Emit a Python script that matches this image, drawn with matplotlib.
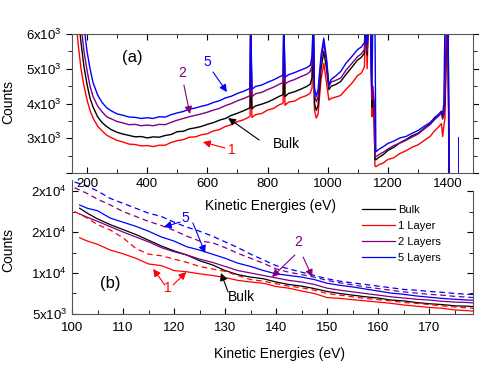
import matplotlib
matplotlib.use("Agg")
import matplotlib.pyplot as plt
from matplotlib.ticker import MultipleLocator, FixedLocator, FixedFormatter

plt.rcParams["font.family"] = ["Liberation Sans", "DejaVu Sans"]
plt.rcParams["mathtext.default"] = "regular"

# ---- panel (a): survey spectra ----
e_top = [150, 160, 170, 180, 190, 200, 210, 220,
         235, 250, 265, 280,
         300, 320, 340, 360, 380, 400, 420, 440, 460, 480, 500,
         520, 540, 560, 580, 600, 620, 640, 660, 680, 700, 720,
         738, 742, 744, 748,
         760, 780, 800, 820, 840,
         848, 852, 854, 858,
         870, 890, 910, 930,
         942, 948, 952, 956, 962, 968, 978, 987, 996, 1004,
         1012, 1025, 1043, 1060, 1080, 1099, 1112, 1122,
         1127, 1131, 1136, 1142, 1147, 1150, 1154, 1157, 1160,
         1170, 1185, 1200, 1220, 1240, 1260, 1280, 1300, 1320, 1340, 1355, 1370,
         1378, 1382, 1386, 1390, 1396, 1400, 1404]

red_top = [8000, 6700, 5750, 5000, 4500, 4100, 3800, 3580,
           3350, 3210, 3090, 3020,
           2940, 2890, 2830, 2820, 2780, 2790, 2760, 2800, 2800, 2880, 2930,
           2960, 3030, 3040, 3100, 3130, 3210, 3250, 3340, 3390, 3480, 3530,
           3610, 3640, 6500, 3600,
           3680, 3710, 3810, 3860, 3970,
           3990, 4020, 6500, 3950,
           4040, 4070, 4170, 4230,
           4300, 4450, 6500, 3800, 3580, 3700, 4700, 5150, 4600, 4100,
           4150, 4180, 4230, 4400, 4580, 4800, 4880, 5050,
           6500, 5000, 6500, 6500, 3620, 4000, 3700, 2200, 2180,
           2240, 2290, 2390, 2440, 2560, 2640, 2740, 2810, 2930, 3050, 3210, 3340,
           3420, 3050, 3350, 3600, 6500, 5000, 1500]

black_top = [9000, 7800, 6600, 5750, 5050, 4550, 4150, 3900,
             3620, 3450, 3340, 3250,
             3170, 3120, 3080, 3040, 3050, 3010, 3040, 3030, 3080, 3110, 3190,
             3200, 3270, 3300, 3340, 3400, 3450, 3520, 3570, 3660, 3720, 3790,
             3860, 3880, 6500, 3850,
             3930, 3980, 4040, 4120, 4210,
             4240, 4260, 6500, 4200,
             4290, 4340, 4410, 4490,
             4560, 4750, 6500, 4000, 3800, 3950, 5000, 5500, 5000, 4400,
             4500, 4540, 4630, 4830, 5040, 5250, 5330, 5450,
             6500, 5400, 6500, 6500, 3900, 4300, 3950, 2400, 2380,
             2450, 2530, 2650, 2740, 2870, 2960, 3070, 3140, 3280, 3410, 3590, 3690,
             3760, 3600, 3700, 4000, 6500, 6500, 1500]

purple_top = [9600, 8400, 7200, 6250, 5500, 4950, 4500, 4200,
              3930, 3760, 3620, 3560,
              3480, 3440, 3390, 3400, 3360, 3380, 3360, 3400, 3390, 3460, 3520,
              3570, 3620, 3660, 3700, 3750, 3810, 3860, 3940, 4000, 4080, 4140,
              4210, 4230, 6500, 4200,
              4280, 4320, 4400, 4470, 4560,
              4590, 4620, 6500, 4560,
              4630, 4690, 4770, 4840,
              4920, 5100, 6500, 4250, 4050, 4200, 5250, 5740, 5200, 4500,
              4620, 4660, 4730, 4950, 5150, 5350, 5430, 5550,
              6500, 5500, 6500, 6500, 4100, 4500, 4100, 2480, 2470,
              2530, 2600, 2690, 2790, 2860, 2940, 3030, 3120, 3260, 3390, 3530, 3650,
              3720, 3550, 3650, 4200, 6500, 6500, 1500]

blue_top = [10500, 9200, 8000, 7000, 6200, 5500, 5000, 4600,
            4250, 4030, 3880, 3790,
            3700, 3660, 3610, 3600, 3570, 3590, 3570, 3620, 3610, 3680, 3730,
            3770, 3840, 3870, 3920, 3960, 4030, 4080, 4160, 4210, 4290, 4350,
            4420, 4440, 6500, 4410,
            4490, 4530, 4610, 4680, 4770,
            4800, 4830, 6500, 4760,
            4830, 4890, 4960, 5030,
            5100, 5350, 6500, 4450, 4200, 4400, 5400, 5880, 5300, 4530,
            4700, 4780, 4920, 5150, 5350, 5550, 5630, 5750,
            6500, 5700, 6500, 6500, 4400, 6500, 6500, 6500, 2610,
            2680, 2760, 2850, 2920, 3010, 3050, 3140, 3220, 3340, 3450, 3580, 3700,
            3780, 3700, 4000, 6500, 6500, 6500, 1500]

# stray blue line near 1434 eV
blue_stray_x = [1434, 1434]
blue_stray_y = [3050, 1500]

# ---- panel (b): low energy region ----
e_solid = [101.5, 103, 105, 107.5, 110, 112.5, 115, 117.5, 120, 122.5, 125, 127.5,
           130, 132.5, 135, 137.5, 140, 142.5, 145, 147.5, 150, 152.5, 155, 157.5,
           160, 162.5, 165, 167.5, 170, 172.5, 175, 177.5, 180]
e_dash = [100.5] + e_solid[1:]

bulk = [17900, 17300, 16600, 15900, 15300, 14700, 14000, 13300, 12700, 12200, 11500, 11000,
        10300, 9800, 9500, 9300, 8900, 8600, 8400, 8100, 7750, 7500, 7300, 7100,
        6950, 6700, 6600, 6400, 6250, 6150, 6000, 5950, 5850]
layer1 = [14300, 13900, 13500, 12800, 12350, 11800, 11100, 10900, 10300, 10150, 9900, 9700,
          9450, 9100, 8900, 8750, 8350, 8150, 7800, 7500, 7000, 6900, 6750, 6600,
          6450, 6300, 6100, 5950, 5800, 5700, 5500, 5400, 5300]
layer2 = [17200, 16800, 16300, 15650, 15000, 14400, 13800, 13100, 12600, 12200, 11700, 11300,
          10800, 10300, 10000, 9700, 9400, 9100, 8900, 8600, 8150, 7900, 7700, 7500,
          7300, 7100, 6950, 6800, 6700, 6550, 6450, 6400, 6300]
layer5 = [18300, 17900, 17600, 16700, 16200, 15700, 15100, 14400, 13900, 13200, 12800, 12300,
          11800, 11200, 10800, 10300, 9900, 9700, 9500, 9200, 8750, 8500, 8300, 8050,
          7800, 7550, 7400, 7200, 7050, 6900, 6800, 6700, 6650]
layer1_d = [17500, 16700, 15900, 15240, 14300, 13000, 12300, 12100, 11700, 11300, 10800, 10500,
            10200, 9700, 9200, 9000, 8700, 8400, 8200, 7900, 7500, 7300, 7100, 6900,
            6750, 6600, 6400, 6300, 6150, 6000, 5850, 5750, 5650]
layer2_d = [20400, 19700, 19000, 18300, 17500, 16900, 16300, 15800, 15200, 14500, 13900, 13700,
            13100, 12400, 11800, 11200, 10500, 10100, 9800, 9500, 9100, 8800, 8550, 8300,
            8100, 7900, 7700, 7550, 7400, 7300, 7150, 7050, 6950]
layer5_d = [21100, 20600, 20000, 19100, 18500, 17900, 17300, 16900, 16200, 15600, 15100, 14500,
            13800, 13100, 12300, 11600, 10900, 10500, 10100, 9700, 9300, 9000, 8800, 8600,
            8400, 8200, 8000, 7900, 7750, 7650, 7500, 7400, 7350]

labels = ["Bulk", "1 Layer", "2 Layers", "5 Layers"]
top_yticks = [2000, 3000, 4000, 5000, 6000]
top_ylabels = ["", "$3x10^3$", "$4x10^3$", "$5x10^3$", "$6x10^3$"]
bot_yticks = [5000, 10000, 15000, 20000]
bot_ylabels = ["$5x10^3$", "$1x10^4$", "$2x10^4$", "$2x10^4$"]

RED, BLACK, PURPLE, BLUE = "#ff0000", "#000000", "#800080", "#0000ff"
DASH = (0, (4.5, 3))

fig = plt.figure(figsize=(4.79, 3.83), dpi=100)
ax2 = fig.add_axes([0.1503, 0.1802, 0.8372, 0.3499])
ax1 = fig.add_axes([0.1503, 0.5483, 0.8372, 0.3629])
ax2.set_facecolor("none")
ax1.set_facecolor("none")

# panel (a)
for y, c in [(red_top, RED), (black_top, BLACK), (purple_top, PURPLE), (blue_top, BLUE)]:
    ax1.plot(e_top, y, color=c, lw=1.0)
ax1.plot(blue_stray_x, blue_stray_y, color=BLUE, lw=0.7)
ax1.set_xlim(150, 1483)
ax1.set_ylim(2000, 6000)
ax1.xaxis.set_major_locator(MultipleLocator(200))
ax1.xaxis.set_minor_locator(MultipleLocator(100))
ax1.yaxis.set_major_locator(FixedLocator(top_yticks))
ax1.yaxis.set_major_formatter(FixedFormatter(top_ylabels))
ax1.yaxis.set_minor_locator(MultipleLocator(500))
ax1.tick_params(which="both", direction="in", top=True, right=True, labelsize=9.5)
ax1.tick_params(axis="y", which="both", left=True, direction="out")
ax1.tick_params(which="major", length=4)
ax1.tick_params(which="minor", length=3)
ax1.set_xlabel("Kinetic Energies (eV)", fontsize=10)
ax1.xaxis.set_label_coords(0.494, -0.19)
ax1.set_ylabel("Counts", fontsize=10)
ax1.yaxis.set_label_coords(-0.142, 0.51)
for s in ax1.spines.values():
    s.set_color("#555555")

ax1.text(349, 5338, "(a)", fontsize=12, ha="center", va="center")
ax1.text(599, 5194, "5", color=BLUE, fontsize=10, ha="center", va="center")
ax1.text(516, 4878, "2", color=PURPLE, fontsize=10, ha="center", va="center")
ax1.text(818, 2835, "Bulk", fontsize=10, ha="left", va="center")
ax1.text(682, 2662, "1", color=RED, fontsize=10, ha="center", va="center")
arrows_a = [((619, 4906), (665, 4330), BLUE),
            ((522, 4532), (542, 3700), PURPLE),
            ((772, 2950), (669, 3583), BLACK),
            ((659, 2719), (585, 2892), RED)]
for tail, tip, c in arrows_a:
    ax1.annotate("", xy=tip, xytext=tail,
                 arrowprops=dict(arrowstyle="-|>", color=c, lw=0.8,
                                 mutation_scale=11, shrinkA=0, shrinkB=0))

# panel (b)
h1, = ax2.plot(e_solid, bulk, color=BLACK, lw=0.9)
h2, = ax2.plot(e_solid, layer1, color=RED, lw=0.9)
h3, = ax2.plot(e_solid, layer2, color=PURPLE, lw=0.9)
h4, = ax2.plot(e_solid, layer5, color=BLUE, lw=0.9)
ax2.plot(e_dash, layer1_d, color=RED, lw=0.9, ls=DASH)
ax2.plot(e_dash, layer2_d, color=PURPLE, lw=0.9, ls=DASH)
ax2.plot(e_dash, layer5_d, color=BLUE, lw=0.9, ls=DASH)
ax2.set_xlim(100, 178.6)
ax2.set_ylim(5000, 21350)
ax2.xaxis.set_major_locator(MultipleLocator(10))
ax2.xaxis.set_minor_locator(MultipleLocator(5))
ax2.yaxis.set_major_locator(FixedLocator(bot_yticks))
ax2.yaxis.set_major_formatter(FixedFormatter(bot_ylabels))
ax2.yaxis.set_minor_locator(MultipleLocator(2500))
ax2.tick_params(which="both", direction="in", right=True, labelsize=9.5)
ax2.tick_params(axis="x", which="major", pad=5.5)
ax2.tick_params(which="major", length=4)
ax2.tick_params(which="minor", length=3)
ax2.spines["top"].set_visible(False)
ax2.spines["right"].set_bounds(5000, 20000)
for s in ax2.spines.values():
    s.set_color("#555555")
ax2.set_xlabel("Kinetic Energies (eV)", fontsize=10)
ax2.xaxis.set_label_coords(0.518, -0.246)
ax2.set_ylabel("Counts", fontsize=10)
ax2.yaxis.set_label_coords(-0.142, 0.478)

ax2.legend([h1, h2, h3, h4], labels, loc="upper left", frameon=False, fontsize=8,
           bbox_to_anchor=(0.756, 0.466), bbox_transform=fig.transFigure,
           borderaxespad=0, borderpad=0, handlelength=3.0, handletextpad=0.2,
           labelspacing=0.56)

ax2.text(107.5, 8780, "(b)", fontsize=12, ha="center", va="center")
ax2.text(122.2, 16707, "5", color=BLUE, fontsize=10, ha="center", va="center")
ax2.text(144.3, 13780, "2", color=PURPLE, fontsize=10, ha="center", va="center")
ax2.text(118.8, 8170, "1", color=RED, fontsize=10, ha="center", va="center")
ax2.text(133.3, 7070, "Bulk", fontsize=10, ha="center", va="center")
arrows_b = [((121.2, 16220), (118.0, 15610), BLUE),
            ((123.7, 16100), (126.1, 12440), BLUE),
            ((143.7, 12200), (139.2, 9510), PURPLE),
            ((145.3, 11950), (147.1, 9510), PURPLE),
            ((118.2, 8540), (115.9, 10490), RED),
            ((119.8, 8540), (122.4, 10120), RED),
            ((130.6, 7680), (129.2, 10000), BLACK)]
for tail, tip, c in arrows_b:
    ax2.annotate("", xy=tip, xytext=tail,
                 arrowprops=dict(arrowstyle="-|>", color=c, lw=0.8,
                                 mutation_scale=11, shrinkA=0, shrinkB=0))

fig.savefig("out.png", dpi=100)
